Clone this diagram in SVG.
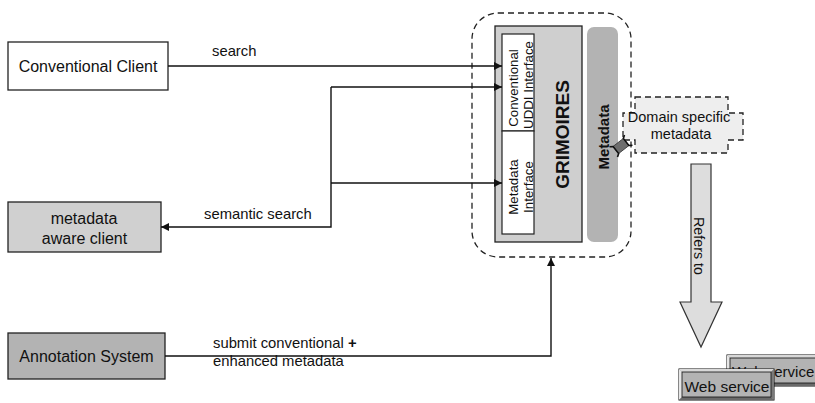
<svg xmlns="http://www.w3.org/2000/svg" width="815" height="403" viewBox="0 0 815 403">
<defs>
<style>
text{font-family:"Liberation Sans",Arial,sans-serif;fill:#111}
.box{fill:#fff;stroke:#222;stroke-width:1.3}
.t16{font-size:16px}
.t15{font-size:14.8px}
.t13{font-size:13.3px}
.mid{text-anchor:middle}
.ln{fill:none;stroke:#111;stroke-width:1.4}
.dash{fill:none;stroke:#222;stroke-width:1.3;stroke-dasharray:6 4}
</style>
<marker id="ah" viewBox="0 0 10 10" refX="10" refY="5" markerWidth="8" markerHeight="8" markerUnits="userSpaceOnUse" orient="auto">
<path d="M0,0 L10,5 L0,10 z" fill="#111"/>
</marker>
</defs>
<rect width="815" height="403" fill="#fff"/>

<g id="grimoires-container">
<rect class="dash" x="472" y="13" width="159" height="244" rx="26" ry="26"/>
</g>

<g id="grimoires">
<rect x="495" y="26" width="87" height="216" fill="#cfcfcf" stroke="#222" stroke-width="1.3"/>
<text class="mid" font-weight="bold" font-size="19" transform="translate(568.5,134.5) rotate(-90)">GRIMOIRES</text>
</g>

<g id="uddi-interface">
<rect x="502" y="34" width="32" height="97" fill="#fff" stroke="#222" stroke-width="1.2"/>
<text class="mid t13" transform="translate(517.5,88) rotate(-90)">Conventional</text>
<text class="mid t13" transform="translate(532.5,85) rotate(-90)">UDDI Interface</text>
</g>

<g id="metadata-interface">
<rect x="502" y="131" width="32" height="103" fill="#fff" stroke="#222" stroke-width="1.2"/>
<text class="mid t13" transform="translate(517.5,187) rotate(-90)">Metadata</text>
<text class="mid t13" transform="translate(532.5,187) rotate(-90)">Interface</text>
</g>

<g id="metadata-store">
<rect x="587" y="27" width="31" height="215" rx="7" ry="7" fill="#b3b3b3"/>
<text class="mid" font-weight="bold" font-size="15" transform="translate(608.5,137) rotate(-90)">Metadata</text>
</g>

<g id="domain-metadata">
<polygon class="dash" style="fill:#eeeeee" points="635,97 728,97 728,113 743,113 743,140 728,140 728,153 635,153 635,140 623,140 623,113 635,113"/>
<text class="mid" font-size="14.5" x="679" y="122">Domain specific</text>
<text class="mid" font-size="14.5" x="681" y="139">metadata</text>
</g>

<g id="link-icon" transform="translate(621,146) rotate(-38)">
<rect x="-6.5" y="-4.5" width="13" height="9" fill="#6e6e6e" stroke="#333" stroke-width="0.8"/>
<polyline points="-9.5,-6.5 -6.5,-4.5 -6.5,4.5 -9.5,6.5" fill="none" stroke="#111" stroke-width="1.6"/>
<polyline points="9.5,-6.5 6.5,-4.5 6.5,4.5 9.5,6.5" fill="none" stroke="#111" stroke-width="1.6"/>
</g>

<g id="refers-to">
<polygon points="691,164 711,164 711,302 722,302 701,347 680,302 691,302" fill="#dddddd" stroke="#333" stroke-width="1.2"/>
<text class="mid" font-size="14.3" transform="translate(694,246) rotate(90)">Refers to</text>
</g>

<g id="conventional-client">
<rect class="box" x="8" y="42" width="160" height="48"/>
<text class="mid t16" x="88" y="72">Conventional Client</text>
</g>

<g id="metadata-aware-client">
<rect class="box" x="8" y="202" width="153" height="50" style="fill:#d0d0d0"/>
<text class="mid t16" x="84" y="224">metadata</text>
<text class="mid t16" x="84.5" y="244">aware client</text>
</g>

<g id="annotation-system">
<rect class="box" x="8" y="333" width="157" height="46" style="fill:#b3b3b3"/>
<text class="mid t16" x="86.5" y="361.5">Annotation System</text>
</g>

<g id="web-service-back">
<rect x="727" y="355" width="100" height="31" fill="#9a9a9a" stroke="#111" stroke-width="1"/>
<polygon points="727,355 827,355 824,358 730,358" fill="#d8d8d8"/>
<polygon points="727,355 730,358 730,383 727,386" fill="#e6e6e6"/>
<polygon points="727,386 730,383 824,383 827,386" fill="#6a6a6a"/>
<rect x="730" y="358" width="94" height="25" fill="#b3b3b3" stroke="#111" stroke-width="0.8"/>
<text font-size="15" x="732" y="377">Web service</text>
</g>

<g id="web-service-front">
<rect x="679" y="369" width="95" height="31" fill="#9a9a9a" stroke="#111" stroke-width="1"/>
<polygon points="679,369 774,369 771,372 682,372" fill="#d8d8d8"/>
<polygon points="679,369 682,372 682,397 679,400" fill="#e6e6e6"/>
<polygon points="679,400 682,397 771,397 774,400" fill="#6a6a6a"/>
<polygon points="774,369 771,372 771,397 774,400" fill="#7a7a7a"/>
<rect x="682" y="372" width="89" height="25" fill="#b3b3b3" stroke="#111" stroke-width="0.8"/>
<text class="mid" font-size="15.5" x="727" y="392">Web service</text>
</g>

<g id="connectors">
<line class="ln" x1="168" y1="66" x2="502" y2="66" marker-end="url(#ah)"/>
<text class="t15" x="212" y="56">search</text>
<line class="ln" x1="331" y1="87" x2="502" y2="87" marker-end="url(#ah)"/>
<line class="ln" x1="331" y1="183" x2="502" y2="183" marker-end="url(#ah)"/>
<polyline class="ln" points="331,87 331,227 161,227" marker-end="url(#ah)"/>
<text class="t15" x="204" y="219">semantic search</text>
<polyline class="ln" points="165,356 551,356 551,258" marker-end="url(#ah)"/>
<text class="t15" x="213" y="348">submit conventional <tspan font-weight="bold">+</tspan></text>
<text class="t15" x="213" y="366">enhanced metadata</text>
</g>
</svg>
